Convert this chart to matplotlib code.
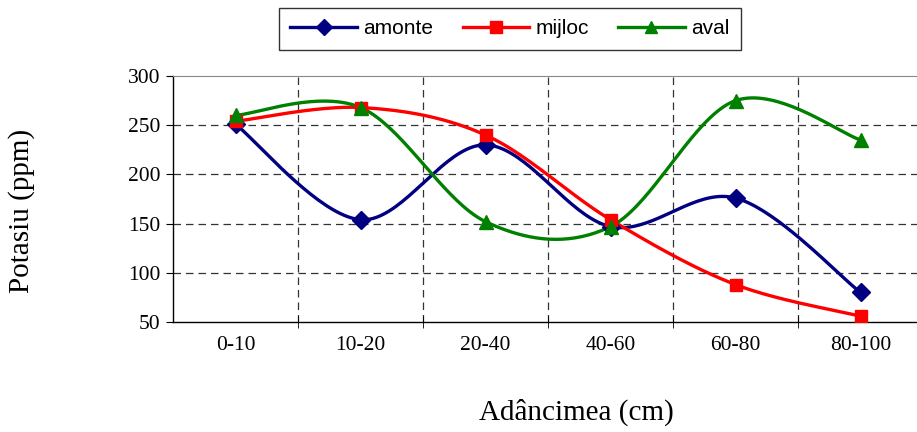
import matplotlib
matplotlib.use("Agg")
import matplotlib.pyplot as plt
from matplotlib.lines import Line2D
import numpy as np

categories = ["0-10", "10-20", "20-40", "40-60", "60-80", "80-100"]
amonte = [251, 154, 230, 147, 176, 80]
mijloc = [254, 268, 240, 154, 88, 56]
aval = [260, 268, 152, 147, 275, 235]


def smooth(xs, ys, n=40):
    # Bezier smoothing through the points (Catmull-Rom style control points)
    pts = np.column_stack([xs, ys]).astype(float)
    out = [pts[0]]
    for i in range(len(pts) - 1):
        p0 = pts[i - 1] if i > 0 else pts[i]
        p1 = pts[i]
        p2 = pts[i + 1]
        p3 = pts[i + 2] if i + 2 < len(pts) else pts[i + 1]
        c1 = p1 + (p2 - p0) / 6.0
        c2 = p2 - (p3 - p1) / 6.0
        t = np.linspace(0, 1, n)[1:, None]
        seg = ((1 - t) ** 3) * p1 + 3 * ((1 - t) ** 2) * t * c1 \
            + 3 * (1 - t) * t ** 2 * c2 + t ** 3 * p2
        out.extend(seg)
    out = np.array(out)
    return out[:, 0], out[:, 1]


fig = plt.figure(figsize=(9.17, 4.32), dpi=100)
ax = fig.add_axes([0.1887, 0.2546, 0.8179, 0.5694])

x = np.arange(len(categories))
series = [
    ("amonte", amonte, "#000080", "D", 9),
    ("mijloc", mijloc, "#FF0000", "s", 9),
    ("aval", aval, "#008000", "^", 10),
]
handles = []
for name, vals, col, mk, ms in series:
    sx, sy = smooth(x, vals)
    ax.plot(sx, sy, color=col, lw=2.4, zorder=3, solid_capstyle="round")
    ax.plot(x, vals, ls="none", marker=mk, ms=ms, color=col, zorder=4)
    handles.append(Line2D([], [], color=col, lw=2.4, marker=mk, ms=ms - 1))

ax.set_xlim(-0.5, len(categories) - 0.5)
ax.set_ylim(50, 300)
ax.set_yticks(np.arange(50, 301, 50))
ax.set_xticks(x)
ax.set_xticklabels(categories)
ax.set_xticks(np.arange(0.5, len(categories) - 0.5, 1), minor=True)

for yv in range(100, 300, 50):
    ax.axhline(yv, color="#333333", lw=0.9, ls=(0, (6, 4)), zorder=1)
for xv in np.arange(0.5, len(categories) - 0.5, 1):
    ax.axvline(xv, color="#333333", lw=0.9, ls=(0, (6, 4)), zorder=1)

ax.spines["top"].set_color("#888888")
ax.spines["right"].set_color("#888888")
ax.spines["left"].set_linewidth(1.0)
ax.spines["bottom"].set_linewidth(1.0)

serif = "Liberation Serif"
ax.tick_params(axis="x", which="major", length=0, pad=10)
ax.tick_params(axis="x", which="minor", direction="inout", length=8)
ax.tick_params(axis="y", direction="out", length=5, pad=4)
for lab in ax.get_xticklabels() + ax.get_yticklabels():
    lab.set_fontfamily(serif)
    lab.set_fontsize(15.5)

fig.text(0.023, 0.512, "Potasiu (ppm)", rotation=90, ha="center", va="center",
         family=serif, fontsize=21)
fig.text(0.628, 0.046, "Adâncimea (cm)", ha="center", va="center",
         family=serif, fontsize=21)

leg = fig.legend(handles, ["amonte", "mijloc", "aval"], ncol=3,
                 loc="center", bbox_to_anchor=(0.556, 0.933),
                 prop={"family": "Liberation Sans", "size": 15},
                 frameon=True, fancybox=False, edgecolor="black",
                 handlelength=3.2, handletextpad=0.3, columnspacing=1.4,
                 borderpad=0.55)
leg.get_frame().set_linewidth(1.0)

fig.savefig("out.png", dpi=100)
